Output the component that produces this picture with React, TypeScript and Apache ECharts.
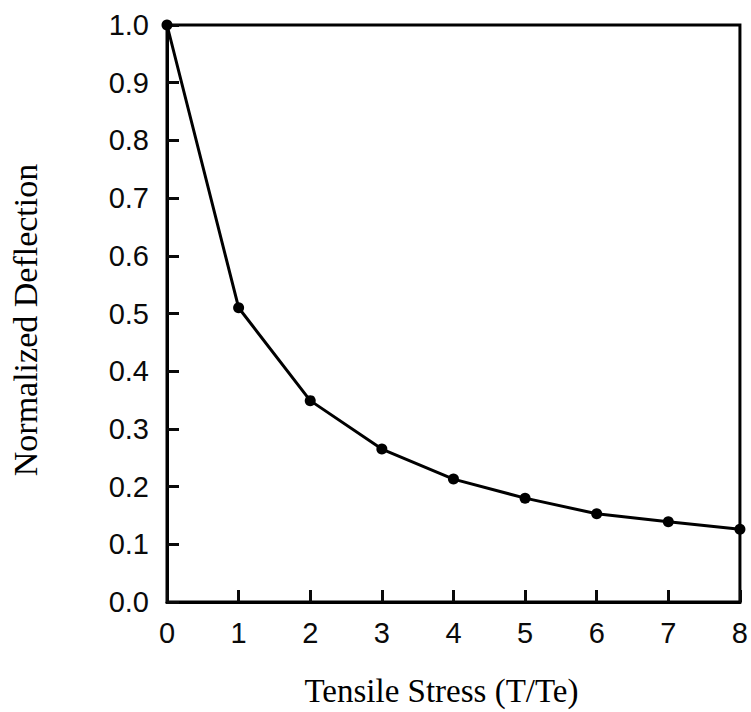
import React, { useEffect, useRef } from "react";
import * as echarts from "echarts";

const stress = [0, 1, 2, 3, 4, 5, 6, 7, 8];
const deflection = [1.0, 0.51, 0.349, 0.265, 0.213, 0.18, 0.153, 0.139, 0.126];
const xTitle = "Tensile Stress (T/Te)";
const yTitle = "Normalized Deflection";

export default function App() {
  const ref = useRef<HTMLDivElement>(null);
  useEffect(() => {
    if (!ref.current) return;
    const chart = echarts.init(ref.current, null, { renderer: "svg" });
    const serif = "Liberation Serif, Times New Roman, serif";
    const ink = "#0a0a0a";
    chart.setOption({
      animation: false,
      grid: {
        left: 167,
        right: 8,
        top: 25,
        bottom: 110,
        show: true,
        borderColor: "#000",
        borderWidth: 3,
      },
      xAxis: {
        type: "value",
        min: 0,
        max: 8,
        interval: 1,
        name: xTitle,
        nameLocation: "middle",
        nameGap: 72,
        nameTextStyle: { fontFamily: serif, fontSize: 33, color: "#000", padding: [0, 24, 0, 0] },
        axisLine: { show: true, lineStyle: { color: "#000", width: 3 } },
        axisTick: { show: true, inside: true, length: 12, lineStyle: { color: ink, width: 3 } },
        axisLabel: { fontSize: 29, margin: 16, color: ink },
        splitLine: { show: false },
      },
      yAxis: {
        type: "value",
        min: 0,
        max: 1,
        interval: 0.1,
        name: yTitle,
        nameLocation: "middle",
        nameGap: 125,
        nameTextStyle: { fontFamily: serif, fontSize: 34, color: "#000", padding: [0, 13, 0, 0] },
        axisLine: { show: true, lineStyle: { color: "#000", width: 3 } },
        axisTick: { show: true, inside: true, length: 12, lineStyle: { color: ink, width: 3 } },
        axisLabel: {
          fontSize: 29,
          margin: 18,
          color: ink,
          formatter: (v: number) => v.toFixed(1),
        },
        splitLine: { show: false },
      },
      series: [
        {
          type: "line",
          data: stress.map((s, i) => [s, deflection[i]]),
          symbol: "circle",
          symbolSize: 11,
          showSymbol: true,
          clip: false,
          lineStyle: { color: "#000", width: 3 },
          itemStyle: { color: "#000" },
        },
      ],
    });
    return () => chart.dispose();
  }, []);
  return <div ref={ref} style={{ width: 751, height: 712, position: "absolute", left: 0, top: 0 }} />;
}
